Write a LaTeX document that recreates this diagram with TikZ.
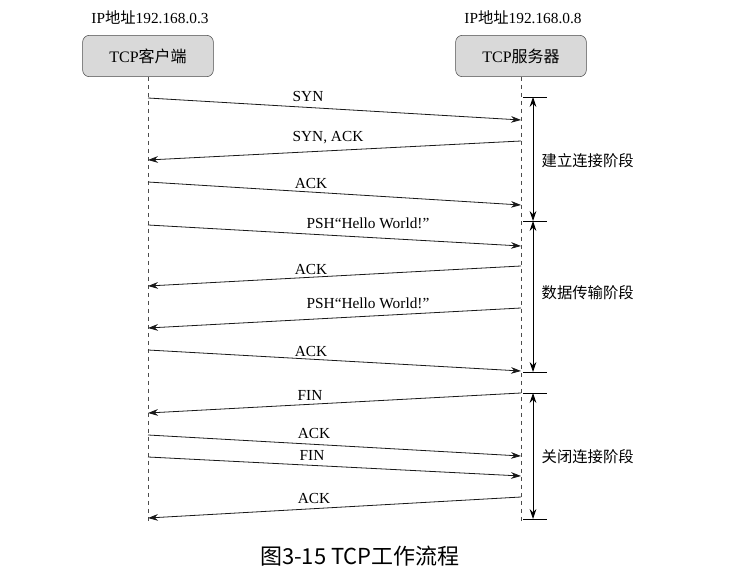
\documentclass[tikz,border=0pt]{standalone}
\usepackage{fontspec}
\setmainfont{Liberation Serif}
\newfontfamily\cjk{Noto Sans CJK SC}
\usetikzlibrary{arrows.meta}
\begin{document}
\begin{tikzpicture}[x=0.75pt,y=-0.75pt,
  txt/.style={font=\fontsize{11.5}{13}\selectfont},
  box/.style={draw=black!70,fill=black!15,rounded corners=5pt,minimum width=98pt,minimum height=31pt,font=\fontsize{12}{14}\selectfont},
  msg/.style={-{Stealth[length=7.5pt,width=5pt]},black!90,line width=0.6pt},
  life/.style={dashed,black!70,line width=0.5pt},
  brk/.style={{Stealth[length=7.5pt,width=5pt]}-{Stealth[length=7.5pt,width=5pt]},line width=0.6pt}]
\useasboundingbox (0,0) rectangle (754,588);
\node[box] (c) at (148,56) {TCP{\cjk 客户端}};
\node[box] (s) at (521,56) {TCP{\cjk 服务器}};
\node[txt] (ipc) at (150,17) {IP{\cjk 地址}192.168.0.3};
\node[txt] (ips) at (523,17) {IP{\cjk 地址}192.168.0.8};
\coordinate (ce) at (148,522); \coordinate (se) at (521,522);
\draw[life] (c.south) -- (ce);
\draw[life] (s.south) -- (se);
\foreach \n/\y in {a1/98,a3/182,a4/225,a7/350,a9/435,a10/457}{\coordinate (c\n) at (148,\y);}
\foreach \n/\y in {a1/120,a3/205,a4/246,a7/371,a9/456,a10/476}{\coordinate (s\n) at (521,\y);}
\foreach \n/\y in {a2/141,a5/266,a6/308,a8/393,a11/497}{\coordinate (s\n) at (521,\y);}
\foreach \n/\y in {a2/160,a5/286,a6/328,a8/413,a11/518}{\coordinate (c\n) at (148,\y);}
\draw[msg] (ca1) -- (sa1); \node[txt] (l1) at (308,97) {SYN};
\draw[msg] (sa2) -- (ca2); \node[txt] (l2) at (328,138) {SYN, ACK};
\draw[msg] (ca3) -- (sa3); \node[txt] (l3) at (311,183) {ACK};
\draw[msg] (ca4) -- (sa4); \node[txt] (l4) at (368,223) {PSH“Hello World!”};
\draw[msg] (sa5) -- (ca5); \node[txt] (l5) at (311,269) {ACK};
\draw[msg] (sa6) -- (ca6); \node[txt] (l6) at (368,303) {PSH“Hello World!”};
\draw[msg] (ca7) -- (sa7); \node[txt] (l7) at (311,351) {ACK};
\draw[msg] (sa8) -- (ca8); \node[txt] (l8) at (310,395) {FIN};
\draw[msg] (ca9) -- (sa9); \node[txt] (l9) at (314,433) {ACK};
\draw[msg] (ca10) -- (sa10); \node[txt] (l10) at (312,455) {FIN};
\draw[msg] (sa11) -- (ca11); \node[txt] (l11) at (314,498) {ACK};
\foreach \n/\y in {t1/97,t2/221,t3/372,t4/393,t5/519}{
  \coordinate (\n l) at (523,\y); \coordinate (\n r) at (547,\y); \coordinate (\n m) at (533,\y);
  \draw[line width=0.6pt] (\n l) -- (\n r);}
\draw[brk] (t1m) -- (t2m);
\draw[brk] (t2m) -- (t3m);
\draw[brk] (t4m) -- (t5m);
\node[txt,anchor=west] (p1) at (537,161) {\cjk 建立连接阶段};
\node[txt,anchor=west] (p2) at (537,293) {\cjk 数据传输阶段};
\node[txt,anchor=west] (p3) at (537,457) {\cjk 关闭连接阶段};
\node[font=\cjk\fontsize{16.5}{18}\selectfont] (cap) at (360,556) {图3-15 TCP工作流程};
\end{tikzpicture}
\end{document}
